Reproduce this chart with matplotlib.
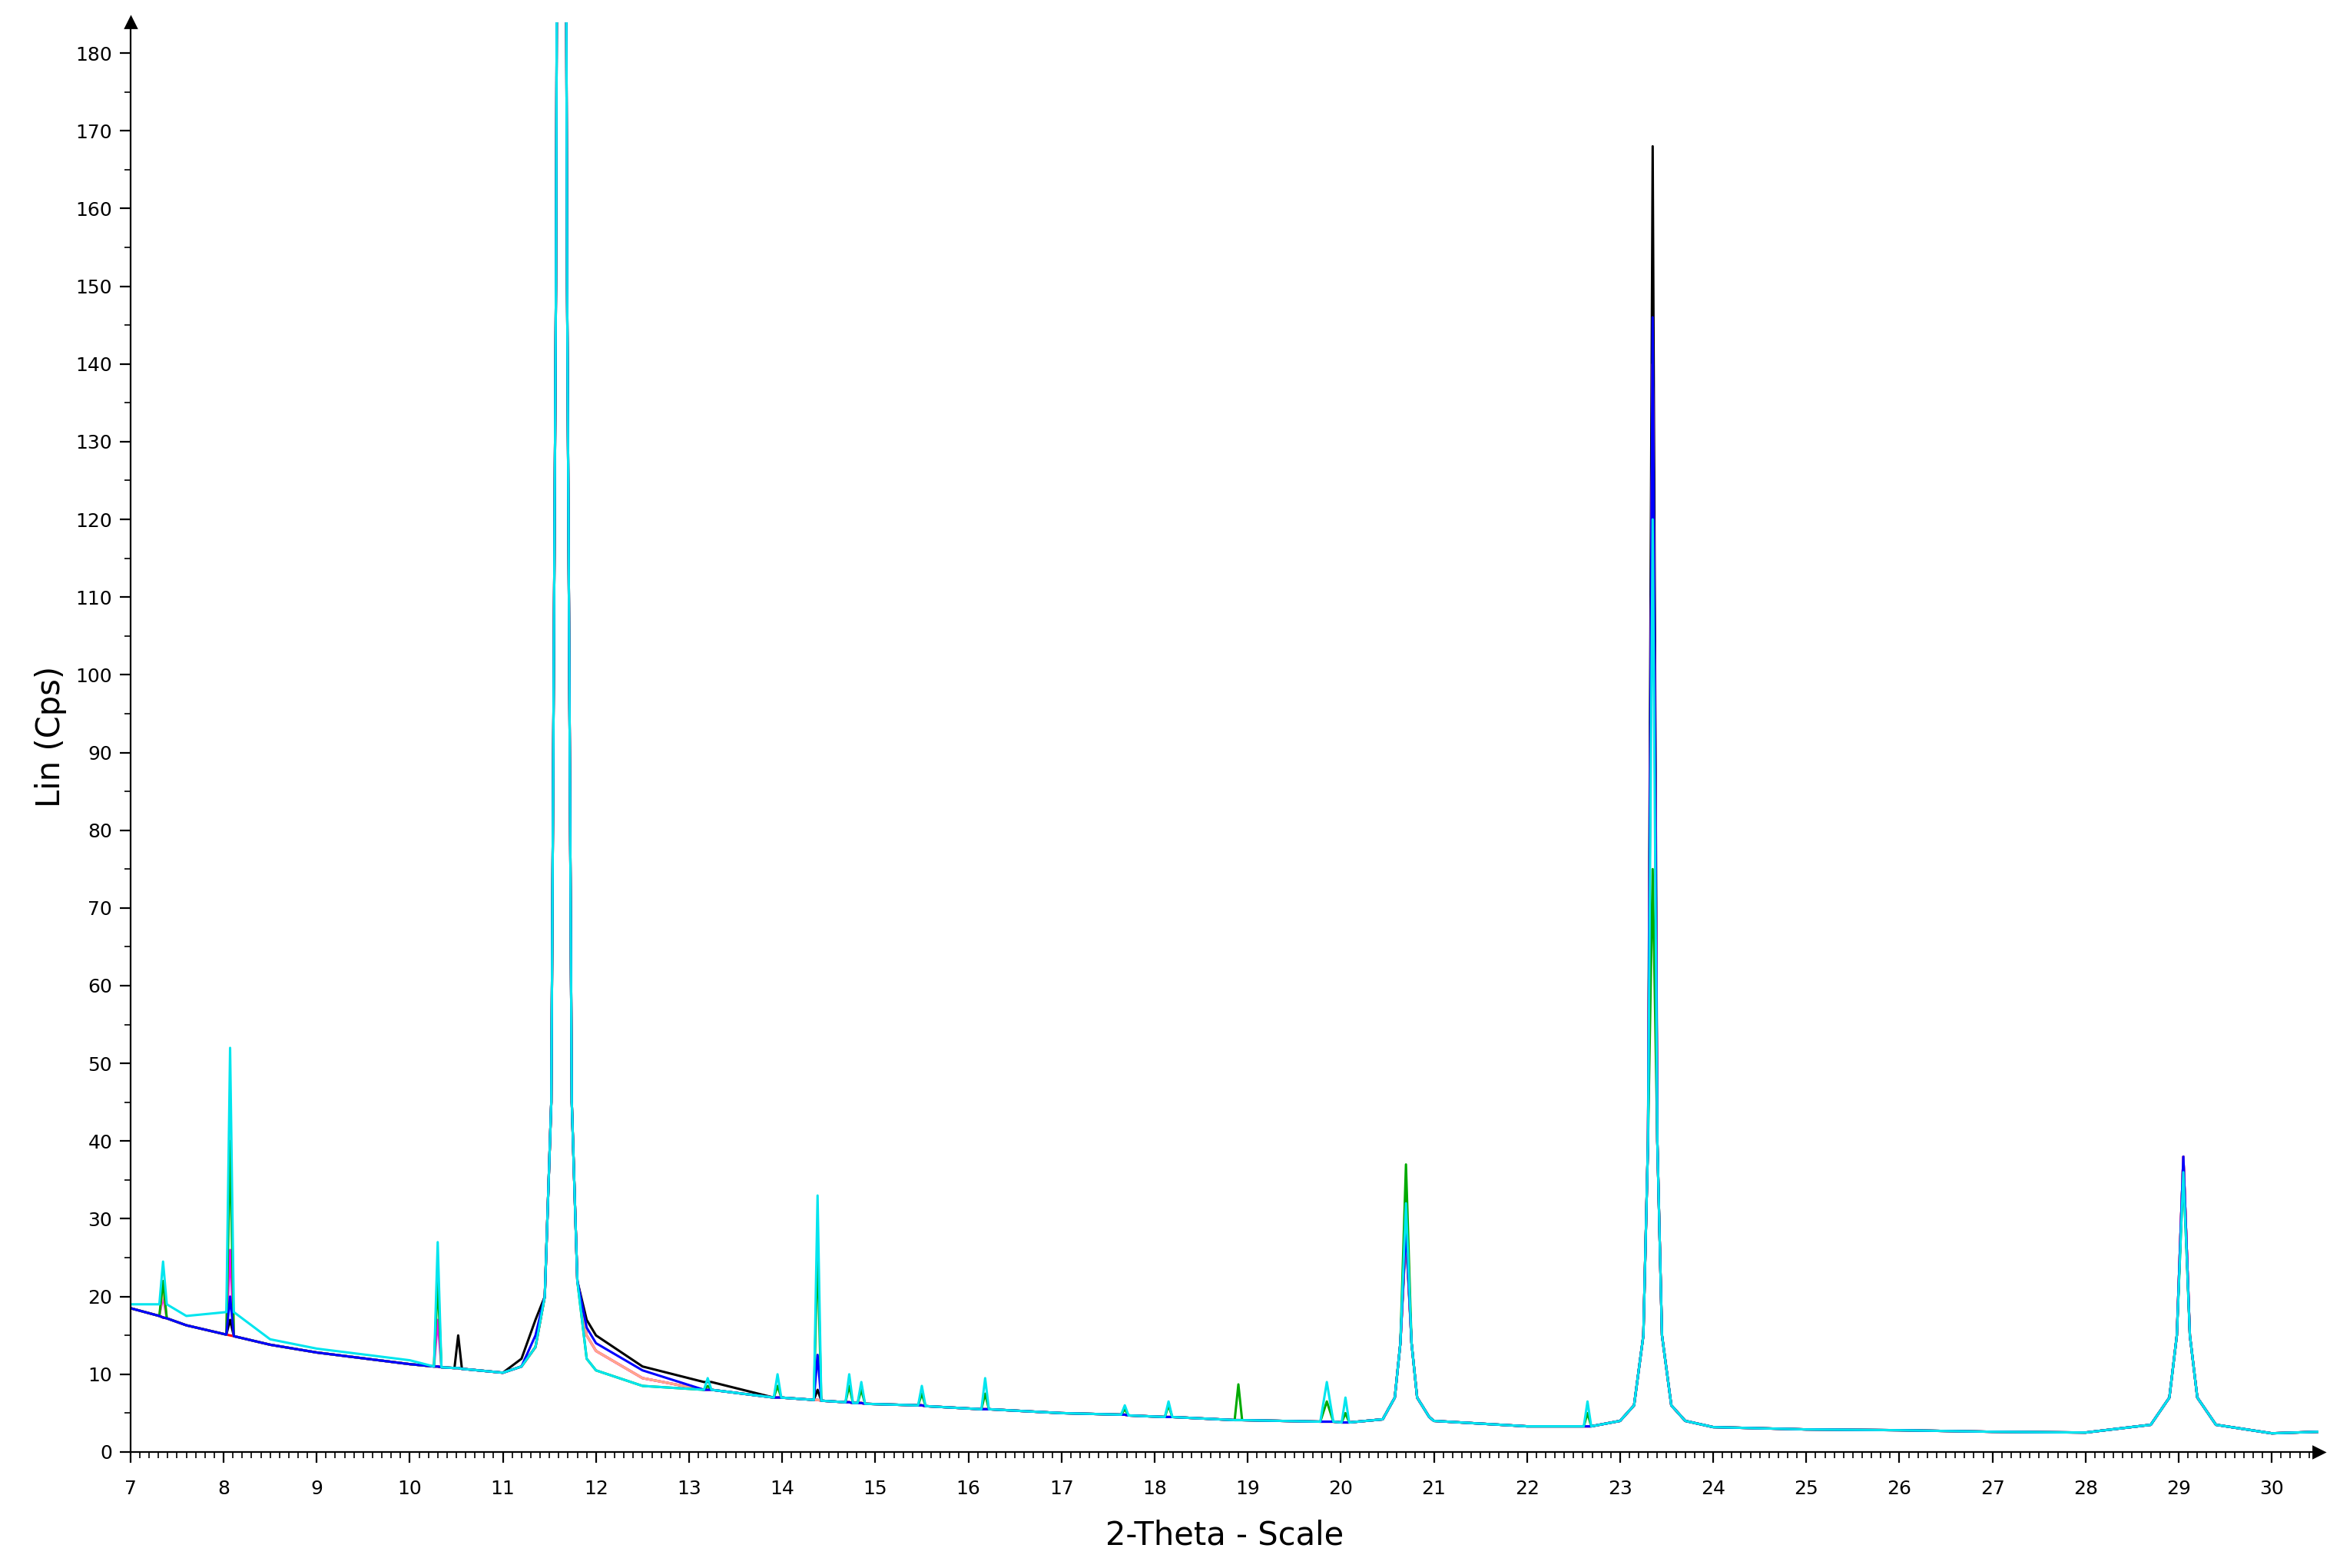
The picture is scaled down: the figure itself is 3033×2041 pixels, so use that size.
import numpy as np
import matplotlib.pyplot as plt

two_theta = [7.0, 7.31, 7.35, 7.39, 7.6, 8.03, 8.07, 8.11, 8.5, 9.0,
             10.0, 10.26, 10.3, 10.34, 10.48, 10.52, 10.56, 11.0, 11.2, 11.35,
             11.45, 11.52, 11.57, 11.63, 11.69, 11.74, 11.8, 11.9, 12.0, 12.5,
             13.16, 13.2, 13.24, 13.91, 13.95, 13.99, 14.34, 14.38, 14.42,
             14.68, 14.72, 14.76, 14.81, 14.85, 14.89,
             15.46, 15.5, 15.54, 16.14, 16.18, 16.22, 17.0, 17.64, 17.68, 17.72,
             18.11, 18.15, 18.19, 18.86, 18.9, 18.94, 19.78, 19.85, 19.92,
             20.01, 20.05, 20.09,
             20.45, 20.58, 20.64, 20.7, 20.76, 20.82, 20.95, 21.0, 22.0,
             22.61, 22.65, 22.69,
             23.0, 23.15, 23.25, 23.3, 23.35, 23.4, 23.45, 23.55, 23.7, 24.0,
             25.0, 26.0, 27.0, 28.0,
             28.7, 28.9, 28.98, 29.05, 29.12, 29.2, 29.4, 30.0, 30.5]

# common background / reference trace (Cps)
base_cps = [18.5, 17.5, 17.3, 17.2, 16.3, 15.1, 15.0, 14.9, 13.8, 12.8,
            11.3, 11.0, 11.0, 10.9, 10.8, 10.8, 10.7, 10.2, 11.0, 13.5,
            20.0, 45.0, 150, 400, 150, 45.0, 22.0, 15.0, 13.0, 9.5,
            8.0, 8.0, 8.0, 7.0, 7.0, 7.0, 6.7, 6.7, 6.6,
            6.4, 6.4, 6.3, 6.3, 6.3, 6.2,
            6.0, 6.0, 5.9, 5.5, 5.5, 5.5, 5.0, 4.8, 4.8, 4.7,
            4.5, 4.5, 4.5, 4.1, 4.1, 4.1, 3.9, 3.9, 3.9,
            3.8, 3.8, 3.8,
            4.2, 7.0, 14.0, 29.0, 14.0, 7.0, 4.5, 4.0, 3.3,
            3.3, 3.3, 3.3,
            4.0, 6.0, 15.0, 40.0, 140, 40.0, 15.0, 6.0, 4.0, 3.2,
            2.9, 2.8, 2.6, 2.5,
            3.5, 7.0, 15.0, 38.0, 15.0, 7.0, 3.5, 2.4, 2.6]

# per-sample values that differ from the background trace
black_pk = {8.07: 17, 10.52: 15, 11.2: 12, 11.35: 17, 11.9: 17, 12.0: 15, 12.5: 11,
            13.16: 9, 13.2: 9, 13.24: 9, 14.38: 8, 20.7: 28, 23.35: 168}
red_pk = {}
magenta_pk = {7.35: 20, 8.07: 26, 10.3: 17}
pink_pk = {7.35: 21, 8.07: 45, 10.3: 24}
green_pk = {7.35: 22, 8.07: 40, 10.3: 22, 11.9: 12, 12.0: 10.5, 12.5: 8.5, 13.2: 8.5,
            13.95: 8.5, 14.38: 26, 14.72: 8.5, 14.85: 8, 15.5: 7.5, 16.18: 7.5,
            17.68: 5.5, 18.15: 6, 18.9: 8.7, 19.85: 6.5, 20.05: 5, 20.7: 37,
            22.65: 5, 23.35: 75, 29.05: 36}
blue_pk = {8.07: 20, 11.35: 15, 11.9: 16, 12.0: 14, 12.5: 10.5, 14.38: 12.5,
           20.7: 29, 23.35: 146}
cyan_pk = {7.0: 19, 7.31: 19, 7.35: 24.5, 7.39: 19, 7.6: 17.5, 8.03: 18, 8.07: 52,
           8.11: 18, 8.5: 14.5, 9.0: 13.3, 10.0: 11.8, 10.3: 27, 11.9: 12, 12.0: 10.5,
           12.5: 8.5, 13.2: 9.5, 13.95: 10, 14.38: 33, 14.72: 10, 14.85: 9, 15.5: 8.5,
           16.18: 9.5, 17.68: 6, 18.15: 6.5, 19.85: 9, 20.05: 7, 20.7: 32,
           22.65: 6.5, 23.35: 120, 29.05: 36}

traces = [(black_pk, 'black'), (red_pk, 'red'), (magenta_pk, 'magenta'),
          (pink_pk, '#ffaa88'), (green_pk, '#00aa00'), (blue_pk, 'blue'),
          (cyan_pk, '#00e5ee')]

fig = plt.figure(figsize=(15.165, 10.205), dpi=200)
ax = fig.add_axes([0.056, 0.074, 0.939, 0.912])

for pk, col in traces:
    y = [pk.get(x, b) for x, b in zip(two_theta, base_cps)]
    ax.plot(two_theta, y, color=col, lw=1.1)

ax.set_xlim(7, 30.5)
ax.set_ylim(0, 184)
ax.set_xticks(np.arange(7, 31, 1))
ax.set_xticks(np.arange(7, 30.5, 0.1), minor=True)
ax.set_yticks(np.arange(0, 181, 10))
ax.set_yticks(np.arange(0, 184, 5), minor=True)
ax.tick_params(labelsize=9, length=5, direction='out')
ax.tick_params(which='minor', length=3, direction='out')
ax.tick_params(axis='x', pad=8)
for s in ['top', 'right']:
    ax.spines[s].set_visible(False)
ax.plot(1, 0, '>k', transform=ax.transAxes, clip_on=False, ms=5)
ax.plot(0, 1, '^k', transform=ax.transAxes, clip_on=False, ms=5)

ax.set_xlabel('2-Theta - Scale', fontsize=15, labelpad=10)
ax.set_ylabel('Lin (Cps)', fontsize=15)

fig.savefig('out.png', dpi=200)
